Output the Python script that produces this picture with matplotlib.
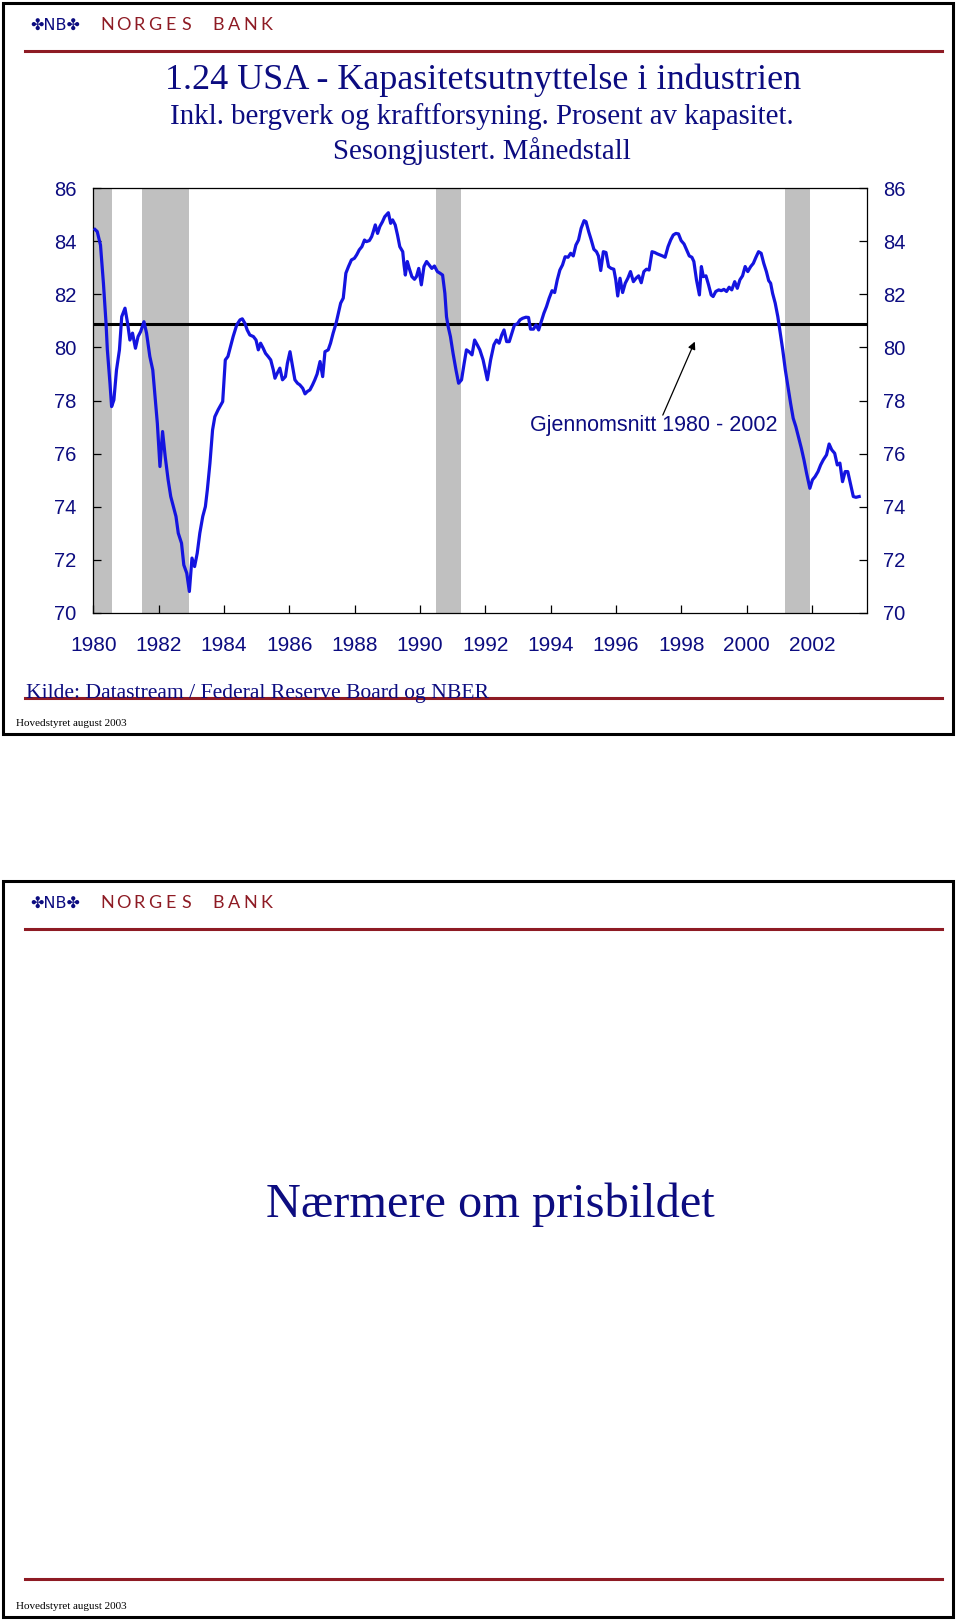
import matplotlib.pyplot as plt
from matplotlib.lines import Line2D
from matplotlib.patches import Rectangle

plt.rcParams['font.family'] = 'Liberation Sans'

# capacity utilisation, US industry (% of capacity)
years = [
    1980.05, 1980.12, 1980.22, 1980.31, 1980.39, 1980.43, 1980.51, 1980.56, 1980.63, 1980.71, 1980.80, 1980.87, 1980.97,
    1981.05, 1981.12, 1981.20, 1981.29, 1981.37, 1981.45, 1981.55, 1981.63, 1981.73, 1981.82, 1981.89, 1981.96,
    1982.04, 1982.12, 1982.20, 1982.29, 1982.37, 1982.45, 1982.53, 1982.60, 1982.70, 1982.77, 1982.86, 1982.94,
    1983.02, 1983.10, 1983.18, 1983.26, 1983.35, 1983.43, 1983.49, 1983.57, 1983.65, 1983.72, 1983.82, 1983.96,
    1984.04, 1984.12, 1984.20, 1984.28, 1984.39, 1984.49, 1984.56, 1984.64, 1984.71, 1984.79, 1984.90, 1984.98,
    1985.05, 1985.12, 1985.20, 1985.27, 1985.35, 1985.43, 1985.51, 1985.56, 1985.63, 1985.71, 1985.79, 1985.88, 1985.94,
    1986.02, 1986.10, 1986.17, 1986.25, 1986.32, 1986.41, 1986.48, 1986.55, 1986.63, 1986.71, 1986.78, 1986.85, 1986.94,
    1987.02, 1987.09, 1987.19, 1987.26, 1987.34, 1987.43, 1987.50, 1987.57, 1987.65, 1987.73, 1987.81, 1987.90, 1987.99,
    1988.06, 1988.14, 1988.22, 1988.30, 1988.36, 1988.45, 1988.52, 1988.57, 1988.63, 1988.70, 1988.77, 1988.85, 1988.92,
    1989.03, 1989.10, 1989.16, 1989.24, 1989.31, 1989.38, 1989.47, 1989.51, 1989.55, 1989.61, 1989.67, 1989.75, 1989.83,
    1989.89, 1989.96,
    1990.04, 1990.12, 1990.20, 1990.28, 1990.36, 1990.44, 1990.53, 1990.61, 1990.69, 1990.76, 1990.81, 1990.86, 1990.93,
    1991.01, 1991.10, 1991.18, 1991.27, 1991.35, 1991.42, 1991.50, 1991.59, 1991.67, 1991.75, 1991.83, 1991.93,
    1992.06, 1992.16, 1992.26, 1992.34, 1992.42, 1992.50, 1992.57, 1992.65, 1992.73, 1992.81, 1992.89, 1992.98,
    1993.06, 1993.14, 1993.24, 1993.32, 1993.38, 1993.47, 1993.55, 1993.63, 1993.71, 1993.79, 1993.87, 1993.95,
    1994.04, 1994.12, 1994.20, 1994.28, 1994.36, 1994.44, 1994.53, 1994.61, 1994.69, 1994.77, 1994.85, 1994.93,
    1995.02, 1995.08, 1995.16, 1995.24, 1995.32, 1995.40, 1995.46, 1995.53, 1995.61, 1995.69, 1995.77, 1995.85, 1995.93,
    1995.99,
    1996.05, 1996.12, 1996.20, 1996.28, 1996.36, 1996.44, 1996.53, 1996.61, 1996.69, 1996.77, 1996.85, 1996.93,
    1997.01, 1997.10, 1997.18, 1997.26, 1997.34, 1997.42, 1997.50, 1997.59, 1997.67, 1997.75, 1997.83, 1997.91, 1997.99,
    1998.08, 1998.16, 1998.24, 1998.32, 1998.38, 1998.46, 1998.55, 1998.61, 1998.67, 1998.75, 1998.83, 1998.91, 1998.97,
    1999.05, 1999.14, 1999.22, 1999.30, 1999.38, 1999.46, 1999.54, 1999.63, 1999.71, 1999.79, 1999.87, 1999.95,
    2000.03, 2000.12, 2000.20, 2000.28, 2000.36, 2000.44, 2000.52, 2000.60, 2000.67, 2000.73, 2000.79, 2000.87, 2000.95,
    2001.01, 2001.10, 2001.18, 2001.26, 2001.34, 2001.42, 2001.50, 2001.58, 2001.67, 2001.75, 2001.83, 2001.93,
    2002.01, 2002.09, 2002.18, 2002.26, 2002.34, 2002.44, 2002.52, 2002.60, 2002.69, 2002.77, 2002.85, 2002.93,
    2003.01, 2003.09, 2003.18, 2003.26, 2003.34, 2003.44,
]
utilization = [
    84.45, 84.37, 83.86, 82.42, 80.91, 79.91, 78.65, 77.77, 78.02, 79.15, 79.91, 81.16, 81.48,
    80.91, 80.28, 80.54, 79.97, 80.41, 80.60, 80.97, 80.54, 79.66, 79.15, 78.15, 77.14,
    75.51, 76.83, 75.89, 75.01, 74.38, 74.00, 73.63, 73.00, 72.62, 71.80, 71.49, 70.80,
    72.06, 71.74, 72.24, 73.00, 73.63, 74.00, 74.63, 75.64, 76.89, 77.39, 77.65, 77.96,
    79.53, 79.66, 80.03, 80.41, 80.85, 81.04, 81.08, 80.91, 80.66, 80.47, 80.41, 80.28,
    79.91, 80.16, 79.97, 79.78, 79.66, 79.53, 79.15, 78.84, 79.03, 79.22, 78.78, 78.90, 79.40,
    79.84, 79.28, 78.78, 78.65, 78.59, 78.46, 78.25, 78.34, 78.40, 78.59, 78.78, 79.00, 79.47,
    78.90, 79.84, 79.91, 80.16, 80.54, 80.91, 81.29, 81.67, 81.86, 82.80, 83.05, 83.30, 83.36,
    83.49, 83.68, 83.80, 84.05, 83.99, 84.03, 84.18, 84.37, 84.62, 84.30, 84.56, 84.74, 84.93,
    85.08, 84.68, 84.81, 84.62, 84.24, 83.80, 83.61, 83.11, 82.73, 83.24, 82.98, 82.67, 82.57,
    82.67, 82.98,
    82.36, 83.05, 83.24, 83.11, 82.98, 83.07, 82.86, 82.80, 82.73, 82.04, 81.16, 80.79, 80.41,
    79.78, 79.15, 78.65, 78.78, 79.40, 79.91, 79.84, 79.72, 80.28, 80.10, 79.91, 79.53,
    78.78, 79.53, 80.10, 80.28, 80.16, 80.47, 80.66, 80.22, 80.22, 80.54, 80.85, 80.89,
    81.04, 81.10, 81.14, 81.13, 80.69, 80.69, 80.85, 80.66, 80.97, 81.29, 81.54, 81.85,
    82.14, 82.07, 82.55, 82.92, 83.11, 83.42, 83.40, 83.55, 83.45, 83.86, 84.05, 84.49,
    84.78, 84.74, 84.37, 84.05, 83.70, 83.61, 83.45, 82.90, 83.61, 83.58, 83.05, 82.98, 82.95,
    82.55,
    81.94, 82.61, 82.07, 82.42, 82.61, 82.86, 82.48, 82.61, 82.70, 82.44, 82.86, 82.95,
    82.92, 83.61, 83.58, 83.53, 83.49, 83.45, 83.40, 83.80, 84.05, 84.24, 84.30, 84.28, 84.03,
    83.90, 83.68, 83.45, 83.40, 83.24, 82.55, 81.98, 83.05, 82.67, 82.70, 82.36, 81.98, 81.92,
    82.11, 82.17, 82.14, 82.19, 82.11, 82.27, 82.17, 82.48, 82.23, 82.55, 82.70, 83.05,
    82.86, 83.05, 83.17, 83.40, 83.61, 83.55, 83.17, 82.86, 82.52, 82.42, 82.04, 81.67, 81.16,
    80.66, 79.91, 79.15, 78.53, 77.90, 77.33, 77.02, 76.64, 76.20, 75.76, 75.26, 74.69,
    75.01, 75.13, 75.32, 75.57, 75.76, 75.95, 76.36, 76.14, 76.01, 75.57, 75.64, 74.94,
    75.32, 75.32, 74.82, 74.38, 74.35, 74.38,
]
average = 80.9  # Gjennomsnitt 1980 - 2002

# NBER recessions
rec_start = [1980.0, 1981.5, 1990.5, 2001.17]
rec_end = [1980.58, 1982.92, 1991.25, 2001.92]

xticks = list(range(1980, 2003, 2))
yticks = list(range(70, 87, 2))

NAVY = '#0c0c80'
RED = '#8e1b24'
BLUE = '#1414e0'
SERIF = 'Liberation Serif'

W, H = 960, 1620
fig = plt.figure(figsize=(9.6, 16.2), dpi=100)


def fx(x):
    return x / W


def fy(y):
    return 1 - y / H


def red_line(y):
    fig.add_artist(Line2D([fx(25), fx(942)], [fy(y), fy(y)], color=RED, lw=2.2))


def slide(top, bottom):
    fig.add_artist(Rectangle((fx(3), fy(bottom)), fx(953) - fx(3), fy(top) - fy(bottom),
                             fill=False, ec='black', lw=2.2))
    # logo
    fig.text(fx(30), fy(top + 27), '\u2724NB\u2724', color=NAVY, fontsize=11.5,
             family='DejaVu Sans', va='baseline')
    for i, ch in enumerate('NORGES BANK'):
        fig.text(fx(107 + i * 15.9), fy(top + 27), ch, color=RED, fontsize=13,
                 family='Lato', ha='center', va='baseline')
    red_line(top + 48)
    fig.text(fx(16), fy(bottom - 8), 'Hovedstyret august 2003', color='black',
             fontsize=8, family=SERIF, va='baseline')


# slide 1
slide(3, 734)
fig.text(fx(483), fy(89), '1.24 USA - Kapasitetsutnyttelse i industrien',
         family=SERIF, fontsize=26, color=NAVY, ha='center', va='baseline')
fig.text(fx(482), fy(124), 'Inkl. bergverk og kraftforsyning. Prosent av kapasitet.',
         family=SERIF, fontsize=20.8, color=NAVY, ha='center', va='baseline')
fig.text(fx(482), fy(159), 'Sesongjustert. Månedstall',
         family=SERIF, fontsize=20.8, color=NAVY, ha='center', va='baseline')
fig.text(fx(26), fy(698), 'Kilde: Datastream / Federal Reserve Board og NBER',
         family=SERIF, fontsize=15.6, color=NAVY, va='baseline')
red_line(698)

ax = fig.add_axes([fx(93.3), fy(612.7), fx(866.7) - fx(93.3), fy(188.3) - fy(612.7)])
for s, e in zip(rec_start, rec_end):
    ax.axvspan(s, e, color='#c0c0c0', lw=0, zorder=0)
ax.axhline(average, color='black', lw=2.2, zorder=2)
ax.plot(years, utilization, color=BLUE, lw=2.3, zorder=3)

ax.set_xlim(1980, 2003.67)
ax.set_ylim(70, 86)
ax.set_xticks(xticks)
ax.set_yticks(yticks)
ax.tick_params(direction='in', length=6, width=0.9, labelsize=14.5, labelcolor=NAVY)
ax.tick_params(axis='y', left=True, right=True, labelleft=True, labelright=True, pad=12)
ax.tick_params(axis='x', pad=17, labelsize=15)
for sp in ax.spines.values():
    sp.set_linewidth(0.9)

ax.text(1997.16, 77.05, 'Gjennomsnitt 1980 - 2002', ha='center', va='center',
        fontsize=15.5, color=NAVY)
ax.annotate('', xy=(1998.41, 80.22), xytext=(1997.43, 77.45),
            arrowprops=dict(arrowstyle='-|>', color='black', lw=0.9,
                            mutation_scale=11, shrinkA=0, shrinkB=0))

# slide 2
slide(881, 1617)
fig.text(fx(490), fy(1217), 'Nærmere om prisbildet', family=SERIF, fontsize=34.8,
         color=NAVY, ha='center', va='baseline')
red_line(1579)

fig.savefig('out.png', dpi=100)
